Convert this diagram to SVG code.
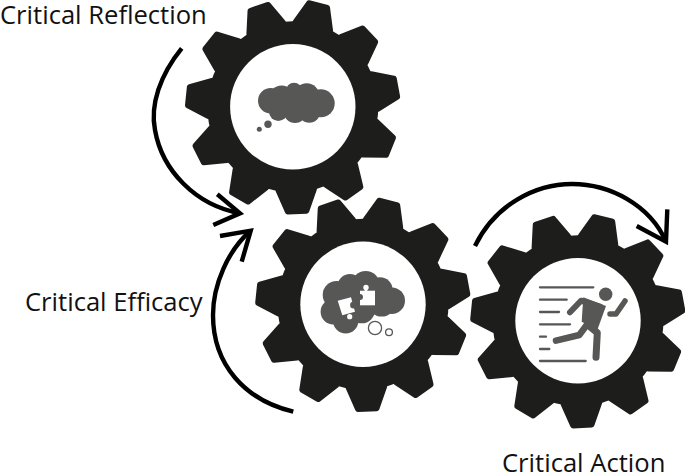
<svg xmlns="http://www.w3.org/2000/svg" xmlns:xlink="http://www.w3.org/1999/xlink" width="685" height="473" viewBox="0 0 685 473">
<style>
.body{fill:#1d1d1b}
.hole{fill:#fff}
.icon{fill:#575756}
.line{stroke:#575756;stroke-width:2.3;stroke-linecap:round;stroke-linejoin:round;fill:none}
.limb{stroke:#575756;stroke-linecap:round;stroke-linejoin:round;fill:none}
.conn{stroke:#000;stroke-width:4.4;fill:none}
.label{font-family:"Open Sans",sans-serif;font-size:25.6px;fill:#111}
.cut{fill:#fff}
</style>
<defs>
<path id="tooth" d="M-21.5,-78 L-20.5,-84 L-12,-105.5 Q-11.5,-107.2 -9.5,-107.4 L9.5,-107.4 Q11.5,-107.2 12,-105.5 L20.5,-84 L21.5,-78 Z"/>
<g id="gear" class="body">
<circle r="85.5"/>
<use xlink:href="#tooth" href="#tooth" transform="rotate(14)"/>
<use xlink:href="#tooth" href="#tooth" transform="rotate(46.73)"/>
<use xlink:href="#tooth" href="#tooth" transform="rotate(79.45)"/>
<use xlink:href="#tooth" href="#tooth" transform="rotate(112.18)"/>
<use xlink:href="#tooth" href="#tooth" transform="rotate(144.91)"/>
<use xlink:href="#tooth" href="#tooth" transform="rotate(177.64)"/>
<use xlink:href="#tooth" href="#tooth" transform="rotate(210.36)"/>
<use xlink:href="#tooth" href="#tooth" transform="rotate(243.09)"/>
<use xlink:href="#tooth" href="#tooth" transform="rotate(275.82)"/>
<use xlink:href="#tooth" href="#tooth" transform="rotate(308.55)"/>
<use xlink:href="#tooth" href="#tooth" transform="rotate(341.27)"/>
<circle class="hole" r="62.7"/>
</g>
</defs>
<rect width="685" height="473" fill="#fff"/>
<g id="gear-reflection">
<use xlink:href="#gear" href="#gear" x="292.8" y="106.8"/>
<g class="icon">
<circle cx="270.7" cy="100.7" r="12.7"/>
<circle cx="281.7" cy="98.3" r="12.7"/>
<circle cx="294" cy="90.7" r="8"/>
<circle cx="306.7" cy="96" r="12.7"/>
<circle cx="320.7" cy="103.3" r="14"/>
<circle cx="278.3" cy="111.7" r="9.3"/>
<circle cx="295" cy="111.7" r="11.3"/>
<circle cx="309.3" cy="111.7" r="11"/>
<rect x="280" y="95" width="30" height="15"/>
<circle cx="268" cy="124.3" r="3.7"/>
<circle cx="259.3" cy="129.3" r="2.5"/>
</g>
<text class="label" x="0" y="24">Critical Reflection</text>
</g>
<g id="gear-efficacy">
<use xlink:href="#gear" href="#gear" x="363" y="304.3"/>
<g class="icon">
<circle cx="336.7" cy="295" r="14"/>
<circle cx="350" cy="286.7" r="12.7"/>
<circle cx="365.7" cy="285" r="14"/>
<circle cx="380" cy="290" r="12.7"/>
<circle cx="391.7" cy="300.7" r="13.3"/>
<circle cx="333.3" cy="311.7" r="12.7"/>
<circle cx="345.7" cy="320.7" r="12.7"/>
<circle cx="361.7" cy="310" r="13.3"/>
<circle cx="381.7" cy="303.3" r="13.3"/>
<rect x="345" y="295" width="30" height="18"/>
</g>
<g class="cut">
<rect x="360" y="290.7" width="15" height="14.6"/>
<circle cx="366" cy="287.5" r="2.7"/>
<rect x="364.7" y="288" width="2.6" height="4"/>
<polygon points="337.7,300.7 351,297.3 355,311.7 342.3,315.3"/>
<circle cx="349.7" cy="316.7" r="2.6"/>
</g>
<circle class="icon" cx="360" cy="297" r="3"/>
<circle class="icon" cx="353.7" cy="305" r="3.6"/>
<circle cx="375" cy="328" r="6.6" fill="#fff" stroke="#575756" stroke-width="1.3"/>
<circle cx="389" cy="332.3" r="3.4" fill="#fff" stroke="#575756" stroke-width="1.3"/>
<text class="label" x="25" y="310.5">Critical Efficacy</text>
</g>
<g id="gear-action">
<use xlink:href="#gear" href="#gear" x="578" y="320.7"/>
<path class="line" d="M540 287.3H593.3M540 299.7H566.7M540 312H559M540 324.3H570M540 336.7H546M540 349H549.3M540 361H585.7"/>
<circle class="icon" cx="605.7" cy="294.3" r="6.7"/>
<polygon class="icon" points="583.3,297.3 606,306 597.3,330 581.7,321.7"/>
<path class="limb" stroke-width="6" d="M570 312.3L581 300.7L600 306.7"/>
<path class="limb" stroke-width="5.5" d="M610 314H616L625 301"/>
<path class="limb" stroke-width="6.5" d="M586.7 325L579.3 335L556 340.7"/>
<path class="limb" stroke-width="7" d="M588 325L597.3 332.7L596 357.3"/>
<text class="label" x="502" y="472">Critical Action</text>
</g>
<g id="connectors">
<path class="conn" d="M181.7 48.3C160 75 150 105 155 130C162 170 195 205 240 213.3"/>
<path class="conn" d="M217.3 194.3L240 213.3L213.3 225"/>
<path class="conn" d="M293.3 411.7C245 400 213 365 213 315C213 285 228 250 250.7 230.7"/>
<path class="conn" d="M220 236L250.7 230.7L241.7 261.7"/>
<path class="conn" d="M475 246C495 205 535 184 572 184C610 184 650 205 666 241.7"/>
<path class="conn" d="M636.7 226L666 241.7L667.3 209.3"/>
</g>
</svg>
